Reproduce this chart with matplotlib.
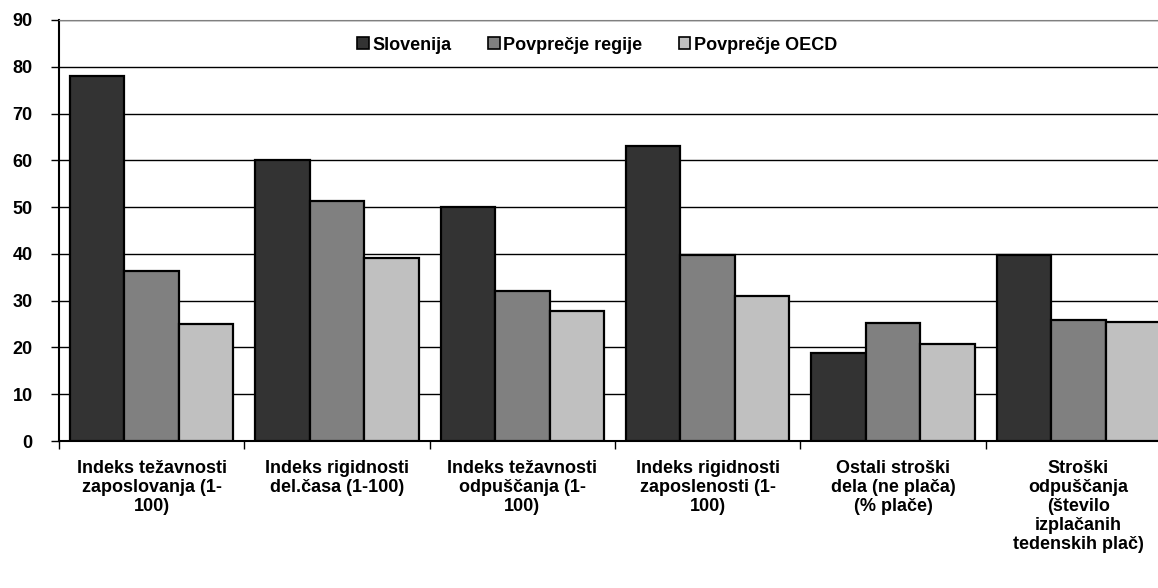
import numpy as np
import matplotlib.pyplot as plt
from matplotlib.ticker import FixedLocator, NullFormatter, FixedFormatter

plt.rcParams['font.family'] = ['Liberation Sans', 'DejaVu Sans']

# data
categories = [
    "Indeks težavnosti\nzaposlovanja (1-\n100)",
    "Indeks rigidnosti\ndel.časa (1-100)",
    "Indeks težavnosti\nodpuščanja (1-\n100)",
    "Indeks rigidnosti\nzaposlenosti (1-\n100)",
    "Ostali stroški\ndela (ne plača)\n(% plače)",
    "Stroški\nodpuščanja\n(število\nizplačanih\ntedenskih plač)",
]
series_names = ["Slovenija", "Povprečje regije", "Povprečje OECD"]
slovenija = [78, 60, 50, 63, 18.9, 39.8]
regija = [36.3, 51.4, 32, 39.8, 25.3, 25.8]
oecd = [25.1, 39.1, 27.8, 30.9, 20.7, 25.5]
colors = ["#333333", "#808080", "#c0c0c0"]

fig = plt.figure(figsize=(11.58, 5.88), dpi=100)
ax = fig.add_axes([0.051, 0.25, 0.9602, 0.716])

x = np.arange(len(categories))
w = 0.294
for i, (vals, name, c) in enumerate(zip([slovenija, regija, oecd], series_names, colors)):
    ax.bar(x + (i - 1) * w, vals, width=w, color=c, edgecolor="black",
           linewidth=1.6, label=name, zorder=3)

ax.set_xlim(-0.5, len(categories) - 0.5)
ax.set_ylim(0, 90)
ax.set_yticks(range(0, 91, 10))
ax.yaxis.grid(True, color="black", linewidth=1.0, zorder=0)

# category boundaries as major ticks, labels on minor ticks
ax.xaxis.set_major_locator(FixedLocator(np.arange(-0.5, len(categories), 1.0)))
ax.xaxis.set_major_formatter(NullFormatter())
ax.xaxis.set_minor_locator(FixedLocator(x))
ax.xaxis.set_minor_formatter(FixedFormatter(categories))
ax.tick_params(axis="x", which="major", direction="out", length=6, width=1, color="black")
ax.tick_params(axis="x", which="minor", length=0, pad=14, labelsize=13)
ax.tick_params(axis="y", direction="out", length=6, width=1, labelsize=13, pad=13)
for lbl in ax.get_xticklabels(minor=True):
    lbl.set_fontweight("bold")
    lbl.set_linespacing(1.15)
for lbl in ax.get_yticklabels():
    lbl.set_fontweight("bold")

for s in ["left", "bottom"]:
    ax.spines[s].set_color("black")
    ax.spines[s].set_linewidth(1.5)
ax.spines["top"].set_color("#808080")
ax.spines["right"].set_visible(False)

leg = ax.legend(loc="center", bbox_to_anchor=(0.484, 0.94), ncol=3, frameon=False,
                handlelength=0.65, handleheight=0.65, handletextpad=0.2,
                columnspacing=2.0, prop={"size": 13, "weight": "bold"})
for h in leg.legend_handles:
    h.set_linewidth(1.2)

fig.savefig("out.png", dpi=100)
